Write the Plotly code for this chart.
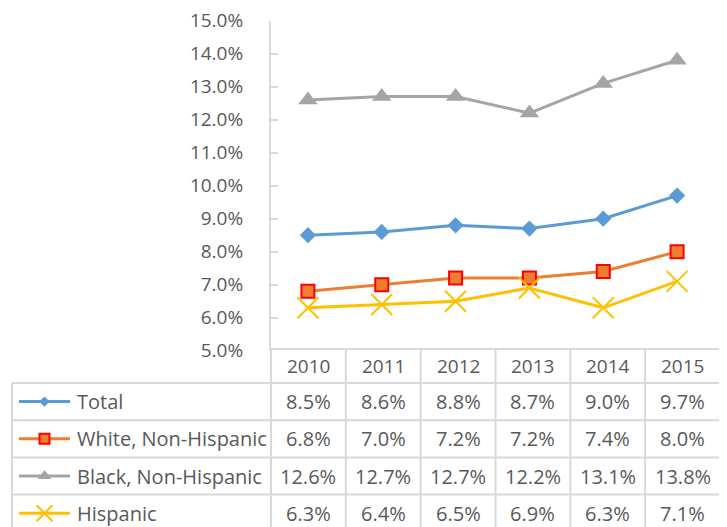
import plotly.graph_objects as go

# data
years = ["2010", "2011", "2012", "2013", "2014", "2015"]
series_names = ["Total", "White, Non-Hispanic", "Black, Non-Hispanic", "Hispanic"]
total = [8.5, 8.6, 8.8, 8.7, 9.0, 9.7]
white = [6.8, 7.0, 7.2, 7.2, 7.4, 8.0]
black = [12.6, 12.7, 12.7, 12.2, 13.1, 13.8]
hispanic = [6.3, 6.4, 6.5, 6.9, 6.3, 7.1]
y_min, y_max, y_step = 5.0, 15.0, 1.0

series_values = [total, white, black, hispanic]

# styles (Excel-like); "key" = marker size in the table legend keys
styles = [
    dict(color="#5B9BD5", symbol="diamond", size=12.5, key=8, mline="#5B9BD5", mwidth=0),
    dict(color="#ED7D31", symbol="square", size=13, key=10, mline="#FF0000", mwidth=2),
    dict(color="#A5A5A5", symbol="triangle-up", size=17, key=12, mline="#A5A5A5", mwidth=0),
    dict(color="#FFC000", symbol="x-thin-open", size=21, key=16, mline="#FFC000", mwidth=2),
]

# page has an 8px body margin, so the figure is drawn 8px in
OX, OY = 8, 8
W, H = 719, 519
GRID = "#D9D9D9"
TEXT = "#595959"
FONT = "Open Sans"
FS = 19
FS_CELL = 20


def px_x(p):
    return (p - OX) / W


def px_y(p):
    return 1 - (p - OY) / H


# layout geometry (screen pixels)
plot_left, plot_right = 271, 714
plot_top, plot_bottom = 20.7, 350.7
col_left, col_right = 271, 720
tab_left = 12
head_top = 349
row_top = 383
row_h = 37.2
y2_top_px = 340

col_w = (col_right - col_left) / len(years)
x2_range = [-0.5 - (col_left - OX) / col_w,
            len(years) - 0.5 + (OX + W - col_right) / col_w]
y2_top = -0.5 - (row_top - y2_top_px) / row_h
y2_bottom = -0.5 + (OY + H - row_top) / row_h
head_top_u = -0.5 - (row_top - head_top) / row_h
head_mid = (head_top_u - 0.5) / 2

fig = go.Figure()

# main chart
for name, vals, st in zip(series_names, series_values, styles):
    fig.add_trace(
        go.Scatter(
            x=years,
            y=vals,
            name=name,
            mode="lines+markers",
            line=dict(color=st["color"], width=3),
            marker=dict(
                symbol=st["symbol"],
                size=st["size"],
                color=st["color"],
                line=dict(color=st["mline"], width=st["mwidth"]),
            ),
            cliponaxis=False,
            showlegend=False,
        )
    )

# legend keys inside the data table
for i, (name, st) in enumerate(zip(series_names, styles)):
    fig.add_trace(
        go.Scatter(
            x=[19, 70], y=[i, i], mode="lines",
            line=dict(color=st["color"], width=3),
            xaxis="x3", yaxis="y2", showlegend=False, hoverinfo="skip",
        )
    )
    fig.add_trace(
        go.Scatter(
            x=[44.5], y=[i], mode="markers",
            marker=dict(
                symbol=st["symbol"],
                size=st["key"],
                color=st["color"],
                line=dict(color=st["mline"], width=st["mwidth"]),
            ),
            xaxis="x3", yaxis="y2", showlegend=False, hoverinfo="skip",
        )
    )

annotations = []
# header years
for j, yr in enumerate(years):
    annotations.append(dict(
        x=j, y=head_mid, xref="x2", yref="y2", text=yr, showarrow=False,
        xanchor="center", yanchor="middle",
    ))
# rows
for i, (name, vals) in enumerate(zip(series_names, series_values)):
    annotations.append(dict(
        x=75, y=i, xref="x3", yref="y2", text=name, showarrow=False,
        xanchor="left", yanchor="middle", font=dict(size=FS_CELL),
    ))
    for j, v in enumerate(vals):
        annotations.append(dict(
            x=j, y=i, xref="x2", yref="y2", text=f"{v:.1f}%", showarrow=False,
            xanchor="center", yanchor="middle", font=dict(size=FS_CELL),
        ))

shapes = []
line_style = dict(color=GRID, width=2)
# header top border
shapes.append(dict(type="line", xref="x3", yref="y2", x0=col_left, x1=col_right,
                   y0=head_top_u, y1=head_top_u, line=line_style))
# row borders
for i in range(len(series_names)):
    y = i - 0.5
    shapes.append(dict(type="line", xref="x3", yref="y2", x0=tab_left, x1=col_right,
                       y0=y, y1=y, line=line_style))
# column borders
for j in range(len(years) + 1):
    x = j - 0.5
    shapes.append(dict(type="line", xref="x2", yref="y2", x0=x, x1=x,
                       y0=head_top_u, y1=y2_bottom, line=line_style))
shapes.append(dict(type="line", xref="x3", yref="y2", x0=tab_left, x1=tab_left,
                   y0=-0.5, y1=y2_bottom, line=line_style))

fig.update_layout(
    width=W,
    height=H,
    margin=dict(l=0, r=0, t=0, b=0, autoexpand=False),
    paper_bgcolor="white",
    # transparent so the table subplot doesn't cover the 5.0% label
    plot_bgcolor="rgba(0,0,0,0)",
    font=dict(family=FONT, size=FS, color=TEXT),
    showlegend=False,
    xaxis=dict(
        domain=[px_x(plot_left), px_x(plot_right)],
        type="category",
        range=[-0.5, len(years) - 0.5],
        showticklabels=False, showgrid=False, zeroline=False, showline=False,
        automargin=False, anchor="y",
    ),
    yaxis=dict(
        domain=[px_y(plot_bottom), px_y(plot_top)],
        range=[y_min, y_max],
        tickmode="linear",
        tick0=y_min,
        dtick=y_step,
        tickformat=".1f",
        ticksuffix="%",
        ticks="inside",
        ticklen=7,
        tickwidth=2,
        tickcolor=GRID,
        showline=True,
        linecolor=GRID,
        linewidth=2,
        showgrid=False,
        zeroline=False,
        ticklabelstandoff=22,
        ticklabeloverflow="allow",
        automargin=False,
        anchor="x",
    ),
    xaxis2=dict(
        domain=[0, 1], type="category", range=x2_range, visible=False,
        automargin=False, anchor="y2",
    ),
    xaxis3=dict(domain=[0, 1], range=[OX, OX + W], visible=False,
                automargin=False, anchor="y2"),
    yaxis2=dict(
        domain=[0, px_y(y2_top_px)], range=[y2_bottom, y2_top], visible=False,
        automargin=False, anchor="x2",
    ),
    annotations=annotations,
    shapes=shapes,
)

fig.write_html("out.html")
